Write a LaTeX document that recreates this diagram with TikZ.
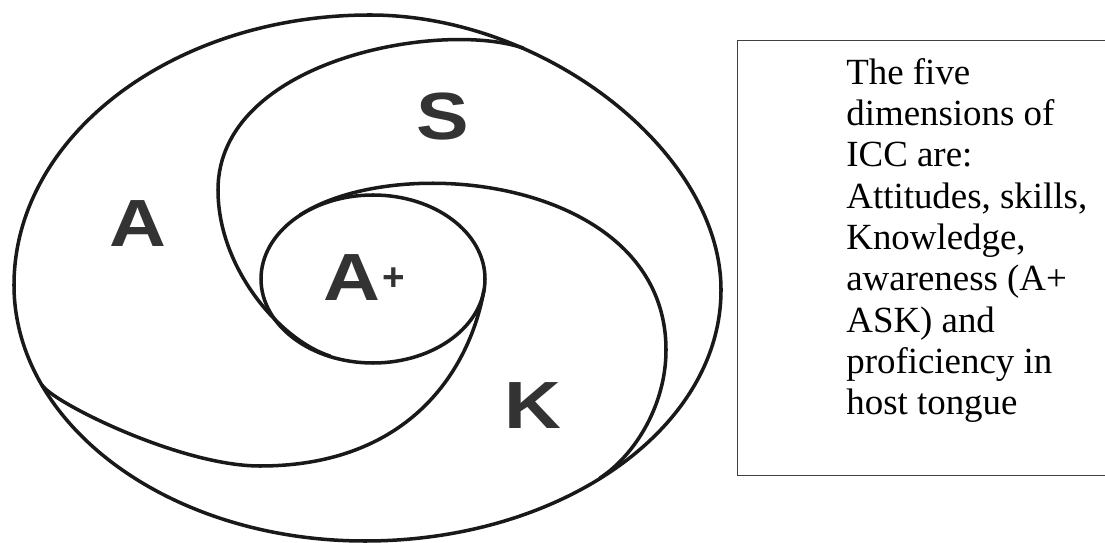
\documentclass[tikz,border=0pt]{standalone}
\usepackage{fontspec}
\setmainfont{Liberation Serif}
\newfontfamily\lblfont{Liberation Sans}
\begin{document}
\begin{tikzpicture}[x=0.02cm, y=-0.02cm,
  curve/.style={line width=2pt, draw=black!90, line join=round, line cap=round},
  lbl/.style={font=\lblfont\bfseries\fontsize{38}{38}\selectfont, text=black!80, xscale=1.18, inner sep=0pt},
  plusmark/.style={font=\lblfont\bfseries\fontsize{22}{22}\selectfont, text=black!80, inner sep=0pt},
  framebox/.style={draw=black!75, line width=0.7pt, anchor=north west, minimum width=7.6cm, minimum height=8.7cm, inner sep=0pt},
  bodytext/.style={anchor=north west, align=left, inner sep=0pt, font=\fontsize{21}{23.5}\selectfont}]
\clip (0,0) rectangle (1105,543);
% outer oval
\draw[curve] (370,15) .. controls (173.4,15) and (14,135.9) .. (14,285)
  .. controls (14,426.4) and (171.1,541) .. (365,541)
  .. controls (561.6,541) and (721,428.6) .. (721,290)
  .. controls (721,152.5) and (545.5,15) .. cycle;
% inner ellipse
\draw[curve] (373,279) ellipse [x radius=112, y radius=84];
% S spiral arm
\draw[curve] (523,48) .. controls (440,20) and (218,60) .. (218,190)
  .. controls (218,270) and (282,341) .. (330,356);
% K spiral arm
\draw[curve] (300,215) .. controls (401,150) and (666,180) .. (666,350)
  .. controls (666,405) and (635,455) .. (600,478);
% A spiral arm
\draw[curve] (42,385) .. controls (52,402) and (180,466) .. (260,466)
  .. controls (410,466) and (470,369) .. (484,290);
% labels
\node[lbl] (la) at (138,224) {A};
\node[lbl] (ls) at (443,117) {S};
\node[lbl] (lk) at (533,406) {K};
\node[lbl] (lap) at (352,278) {A};
\node[plusmark] (lplus) at (394,279) {+};
% text box
\node[framebox] (box) at (737,40) {};
\node[bodytext] (txt) at (846,58) {The five\\dimensions of\\ICC are:\\Attitudes, skills,\\Knowledge,\\awareness (A+\\ASK) and\\proficiency in\\host tongue};
\end{tikzpicture}
\end{document}
